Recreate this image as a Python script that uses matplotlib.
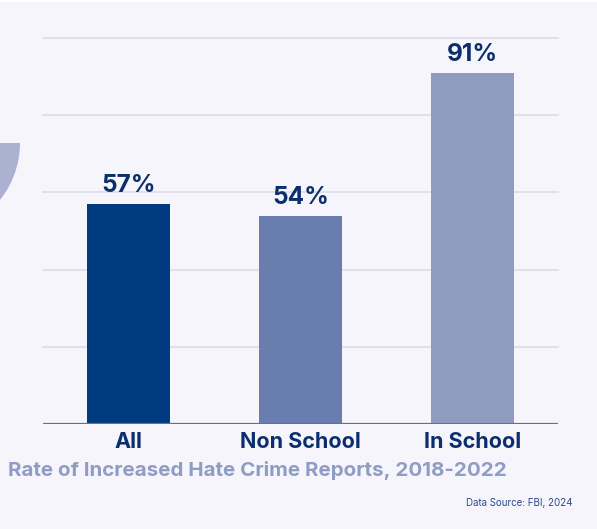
import matplotlib
matplotlib.use("Agg")
import matplotlib.pyplot as plt
from matplotlib.patches import Wedge, Rectangle

# --------------------------------------------------
# Data
# --------------------------------------------------

categories = ["All", "Non School", "In School"]
values = [57, 54, 91]
bar_colors = ["#003b7f", "#6a7daf", "#8f9cc0"]
grid_values = [20, 40, 60, 80, 100]

navy = "#0b2f6c"
bg = "#f7f5fc"

plt.rcParams["font.family"] = ["Inter", "DejaVu Sans"]

fig = plt.figure(figsize=(5.97, 5.29), dpi=100, facecolor=bg)

# decorative shape on the left edge (pixel coords)
deco = fig.add_axes([0, 0, 1, 1], facecolor="none")
deco.set_xlim(0, 597)
deco.set_ylim(0, 529)
deco.axis("off")
deco.add_patch(Wedge((-71, 386), 91, 180, 360, color="#aab1d1", lw=0))
deco.add_patch(Rectangle((0, 527), 597, 2, color="white", lw=0))

# --------------------------------------------------
# Bars
# --------------------------------------------------

ax = fig.add_axes([43 / 597, 105 / 529, 515 / 597, 386 / 529], facecolor="none")

x = list(range(len(categories)))
bars = ax.bar(x, values, width=0.485, color=bar_colors, zorder=3)

for gv in grid_values:
    ax.axhline(gv, color="#dcdbea", lw=1.2, zorder=1, clip_on=False)
ax.axhline(0, color="#5b70aa", lw=1.6, zorder=4)

for bar, v in zip(bars, values):
    ax.annotate(
        f"{v}%",
        (bar.get_x() + bar.get_width() / 2, v),
        xytext=(0, 5),
        textcoords="offset points",
        ha="center",
        va="bottom",
        fontsize=17.5,
        fontweight="bold",
        color=navy,
    )

ax.set_xlim(-0.5, 2.5)
ax.set_ylim(0, 100)
ax.set_xticks(x)
ax.set_xticklabels(categories, fontsize=15.5, fontweight="bold", color=navy)
ax.tick_params(axis="x", length=0, pad=6)
ax.set_yticks([])
for s in ax.spines.values():
    s.set_visible(False)

fig.text(
    8 / 597, 1 - 470 / 529,
    "Rate of Increased Hate Crime Reports, 2018-2022",
    fontsize=14.8, fontweight="bold", color="#8f9cc4",
    ha="left", va="center",
)
fig.text(
    573 / 597, 1 - 503 / 529,
    "Data Source: FBI, 2024",
    fontsize=7, color="#2a4a8a", ha="right", va="center",
)

fig.savefig("out.png", dpi=100, facecolor=bg)
